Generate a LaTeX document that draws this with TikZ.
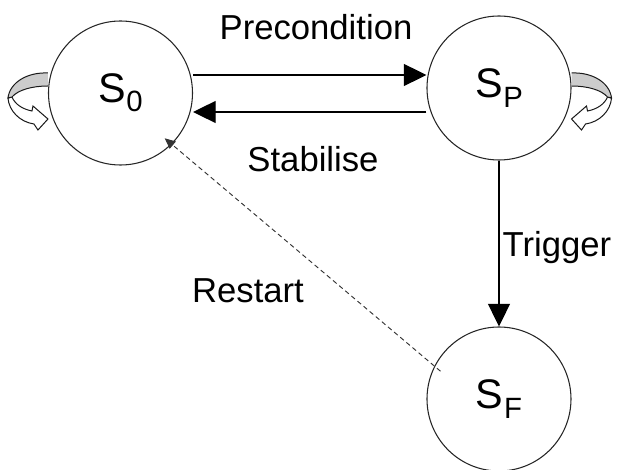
\documentclass[tikz,border=0pt]{standalone}
\usepackage{fontspec}
\setmainfont{Liberation Sans}
\usetikzlibrary{arrows.meta,calc}

% state name: a large S with a lowered index
\newcommand\stname[1]{{\fontsize{31}{32}\selectfont S}\kern0.5pt\raisebox{-7pt}{\fontsize{22}{24}\selectfont #1}}

\begin{document}
\begin{tikzpicture}[x=0.75pt,y=-0.75pt,
  state/.style={circle,draw=black!85,line width=0.8pt,minimum size=108pt,inner sep=0pt},
  lbl/.style={font=\fontsize{26}{28}\selectfont,anchor=base},
  flow/.style={line width=1pt,-{Triangle[length=17pt,width=16.5pt]}},
  back/.style={draw=black!80,line width=0.7pt,dash pattern=on 3.5pt off 2.5pt,
               -{Triangle[length=8pt,width=7pt]}},
  selfloop/.pic={
    % lower, front half of the ribbon with its arrowhead
    \filldraw[fill=white,draw=black!90,line width=0.75pt]
      (-40,-2) .. controls (-39,11) and (-28,22) .. (-14,24) -- (-10,30) -- (0,19)
      -- (-15,6) -- (-16,11) .. controls (-26,9) and (-33,4) .. (-36,-3) -- cycle;
    % upper, shaded back half of the ribbon
    \filldraw[fill=black!20,draw=black!90,line width=0.75pt]
      (0,-27) .. controls (-20,-28) and (-38,-18) .. (-40,-2)
      -- (-36,-3) .. controls (-30,-10) and (-16,-14) .. (0,-14);
  }
]
\useasboundingbox (0,0) rectangle (619,470);

% states
\node[state] (s0) at (120.5,93) {\stname{0}};
\node[state] (sp) at (499,88) {\stname{P}};
\node[state] (sf) at (499,399) {\stname{F}};

% self-loops
\pic at ($(s0.west)+(0,7)$) {selfloop};
\pic[xscale=-1] at ($(sp.east)+(0,12)$) {selfloop};

% transitions
\draw[flow] ($(s0.east)+(0,-18)$) -- ($(sp.west)+(0,-13)$);
\draw[flow] ($(sp.west)+(0,24)$) -- ($(s0.east)+(0,19)$);
\draw[flow] (sp.south) -- (sf.north);
\draw[back,shorten <=-6pt,shorten >=-7pt] (sf.153) -- (s0.-45);

% transition labels
\node[lbl] (pre) at (316,40) {Precondition};
\node[lbl] (sta) at (313,172) {Stabilise};
\node[lbl] (trg) at (557,257) {Trigger};
\node[lbl] (rst) at (248,303) {Restart};
\end{tikzpicture}
\end{document}
